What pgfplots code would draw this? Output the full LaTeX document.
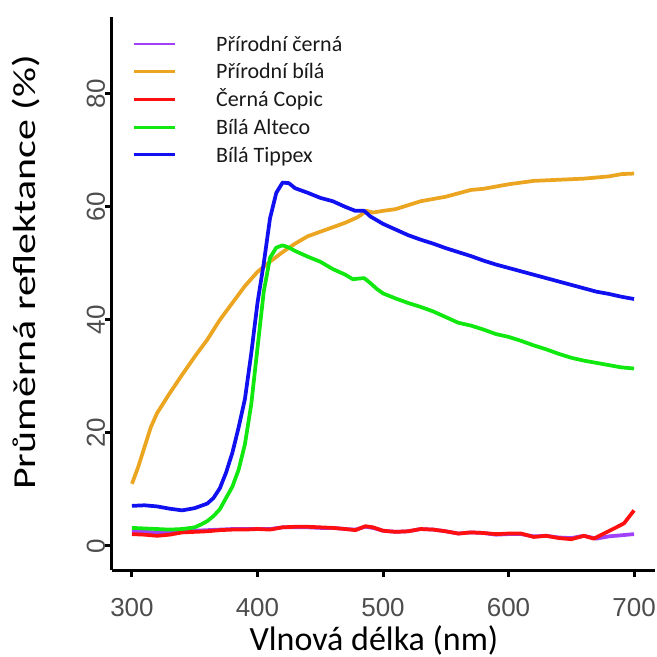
\documentclass[border=0pt]{standalone}
\usepackage{pgfplots}
\pgfplotsset{compat=1.18}
\usepackage{fontspec}
\setmainfont{Carlito}
\newfontfamily\arialf{Liberation Sans}
\definecolor{cpurple}{HTML}{A040F8}
\definecolor{corange}{HTML}{EBA520}
\definecolor{cred}{HTML}{FF1010}
\definecolor{cgreen}{HTML}{10E810}
\definecolor{cblue}{HTML}{1010F0}
\definecolor{tickgray}{HTML}{4D4D4D}
\begin{document}
\begin{tikzpicture}
\begin{axis}[
  at={(0,0)}, anchor=south west,
  scale only axis,
  width=407.25pt, height=414.75pt,
  xmin=284.1, xmax=716.7, ymin=-4.25, ymax=93.6,
  axis x line*=bottom, axis y line*=left,
  axis line style={line width=2.25pt, black},
  tick style={line width=2.25pt, black},
  tick align=outside, major tick length=5.25pt,
  xtick={300,400,500,600,700}, ytick={0,20,40,60,80},
  /pgf/number format/assume math mode=true,
  ticklabel style={font=\arialf\fontsize{19.5}{19.5}\selectfont, text=tickgray},
  xticklabel style={anchor=base, inner sep=0pt, yshift=-29.5pt},
  yticklabel style={rotate=90, anchor=base, inner sep=0pt},
  xlabel={Vlnová délka (nm)},
  ylabel={\scalebox{1.31}[1]{Průměrná reflektance (\%)}},
  label style={font=\fontsize{25.5}{25.5}\selectfont},
  xlabel style={at={(axis description cs:0.4825,-0.1447)}, anchor=base, inner sep=0pt},
  ylabel style={at={(axis description cs:-0.14,0.538)}, anchor=base, rotate=0, inner sep=0pt, font=\fontsize{24}{24}\selectfont},
  legend cell align=left,
  legend style={at={(axis description cs:0.0368,0.9644)}, anchor=north west, draw=none, fill=none, inner sep=0pt,
    font=\fontsize{16.5}{16.5}\selectfont, text=black!90, row sep=10.2pt,
    nodes={inner sep=0pt, text height=10.6pt, text depth=0pt}},
  /tikz/every odd column/.append style={column sep=30pt},
  legend image code/.code={\draw[#1, line width=2.2pt] (0pt,0pt) -- (30.75pt,0pt);},
  every axis plot/.append style={line width=2.8pt, line join=round},
]
\addplot[cpurple] coordinates {(300,2.6)(310,2.5)(320,2.4)(330,2.5)(340,2.6)(350,2.7)(360,2.8)(370,2.9)(380,3.0)(390,3.0)(400,3.0)(410,3.0)(420,3.3)(430,3.3)(440,3.3)(450,3.2)(460,3.2)(470,3.0)(478,2.9)(486,3.4)(492,3.2)(500,2.7)(510,2.5)(520,2.6)(530,3.0)(540,2.9)(550,2.6)(560,2.2)(570,2.4)(580,2.3)(590,2.0)(600,2.1)(610,2.1)(620,1.7)(630,1.8)(640,1.5)(650,1.4)(660,1.8)(670,1.3)(680,1.7)(690,1.9)(700,2.1)};
\addlegendentry{Přírodní černá}
\addplot[corange] coordinates {(300,11)(305,14)(310,17.5)(315,21)(320,23.5)(330,27)(340,30.3)(350,33.5)(360,36.5)(370,40)(380,43)(390,46)(400,48.5)(410,50.3)(420,52)(430,53.5)(440,54.8)(450,55.6)(460,56.4)(470,57.2)(480,58.2)(487,59.3)(492,59.0)(500,59.3)(510,59.6)(520,60.3)(530,61)(540,61.4)(550,61.8)(560,62.4)(570,63)(580,63.2)(590,63.6)(600,64)(610,64.3)(620,64.6)(630,64.7)(640,64.8)(650,64.9)(660,65)(670,65.2)(680,65.4)(690,65.8)(700,65.9)};
\addlegendentry{Přírodní bílá}
\addplot[cred] coordinates {(300,2.1)(310,2.0)(320,1.8)(330,2.0)(340,2.4)(350,2.5)(360,2.6)(370,2.8)(380,2.9)(390,2.9)(400,3.0)(410,2.9)(420,3.3)(430,3.4)(440,3.4)(450,3.3)(460,3.2)(470,3.0)(478,2.8)(486,3.5)(492,3.3)(500,2.7)(510,2.5)(520,2.6)(530,3.0)(540,2.9)(550,2.6)(560,2.2)(570,2.4)(580,2.3)(590,2.1)(600,2.2)(610,2.2)(620,1.6)(630,1.8)(640,1.4)(650,1.2)(660,1.8)(668,1.3)(676,2.2)(685,3.2)(692,4.0)(700,6.3)};
\addlegendentry{Černá Copic}
\addplot[cgreen] coordinates {(300,3.2)(310,3.1)(320,3.0)(330,2.9)(340,3.0)(350,3.3)(355,3.8)(360,4.4)(365,5.3)(370,6.5)(375,8.5)(380,10.5)(385,13.5)(390,18)(395,25)(400,35)(405,45)(410,51)(415,52.8)(420,53.2)(425,52.8)(430,52.2)(440,51.2)(450,50.3)(460,49)(470,48)(476,47.2)(480,47.3)(485,47.4)(490,46.5)(495,45.5)(500,44.7)(510,43.8)(520,43)(530,42.3)(540,41.5)(550,40.5)(560,39.5)(570,39)(580,38.3)(590,37.5)(600,37)(610,36.3)(620,35.5)(630,34.8)(640,34)(650,33.3)(660,32.8)(670,32.4)(680,32.0)(690,31.6)(700,31.4)};
\addlegendentry{Bílá Alteco}
\addplot[cblue] coordinates {(300,7.1)(310,7.2)(320,7.0)(330,6.6)(340,6.3)(350,6.7)(360,7.5)(365,8.5)(370,10.2)(375,13)(380,16.5)(385,21)(390,26)(395,34)(400,43)(405,50)(410,58)(415,62.5)(420,64.3)(425,64.2)(430,63.3)(440,62.5)(450,61.6)(460,61)(470,60)(478,59.3)(485,59.3)(490,58.3)(500,57)(510,56)(520,55)(530,54.2)(540,53.5)(550,52.7)(560,52)(570,51.3)(580,50.5)(590,49.8)(600,49.2)(610,48.6)(620,48)(630,47.4)(640,46.8)(650,46.2)(660,45.6)(670,45)(680,44.6)(690,44.1)(700,43.7)};
\addlegendentry{Bílá Tippex}
\end{axis}
\pgfresetboundingbox
\path[use as bounding box] (-84pt,-65.25pt) rectangle (408.75pt,427.5pt);
\end{tikzpicture}
\end{document}
